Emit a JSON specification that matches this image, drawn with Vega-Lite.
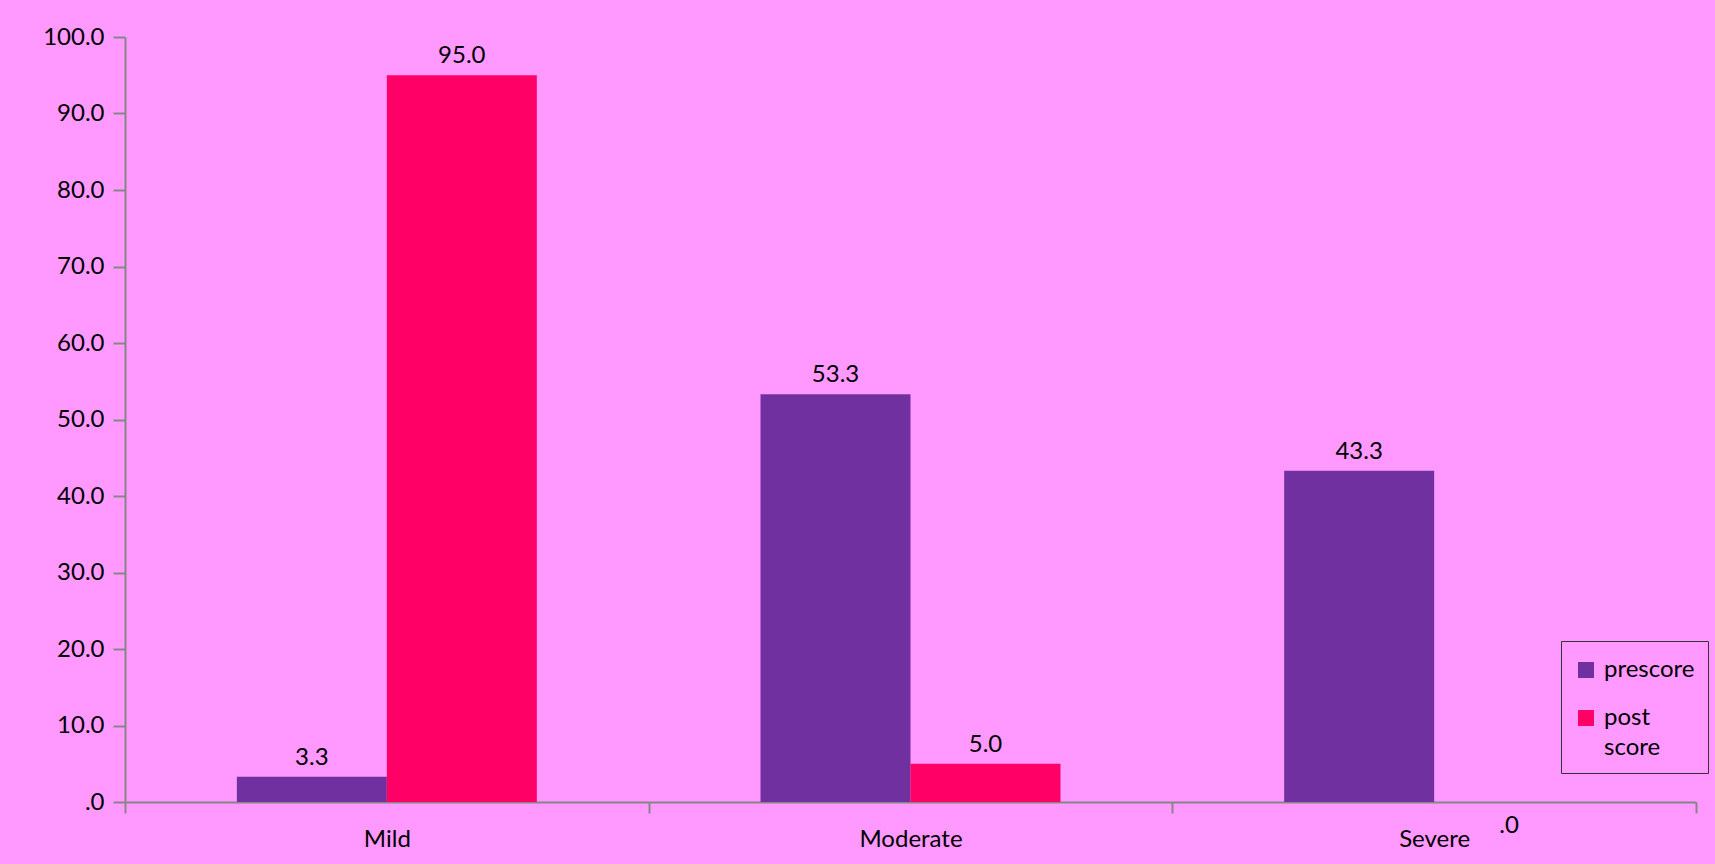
{
  "$schema": "https://vega.github.io/schema/vega-lite/v6.json",
  "width": 1571,
  "height": 765,
  "autosize": {"type": "none"},
  "padding": {"left": 125, "top": 37, "right": 19, "bottom": 62},
  "background": "#FF99FF",
  "config": {
    "view": {"stroke": null},
    "font": "Lato",
    "axis": {
      "domainColor": "#868686",
      "domainWidth": 2,
      "tickColor": "#868686",
      "tickWidth": 2,
      "labelColor": "#000000",
      "labelFontSize": 24,
      "labelFont": "Lato",
      "grid": false,
      "title": null
    }
  },
  "data": {
    "values": [
      {"severity": "Mild", "group": "prescore", "pct": 3.3},
      {"severity": "Mild", "group": "post score", "pct": 95.0},
      {"severity": "Moderate", "group": "prescore", "pct": 53.3},
      {"severity": "Moderate", "group": "post score", "pct": 5.0},
      {"severity": "Severe", "group": "prescore", "pct": 43.3},
      {"severity": "Severe", "group": "post score", "pct": 0.0}
    ]
  },
  "transform": [
    {"calculate": "datum.pct === 0 ? '.0' : format(datum.pct, '.1f')", "as": "label"}
  ],
  "encoding": {
    "x": {
      "field": "severity",
      "type": "nominal",
      "sort": ["Mild", "Moderate", "Severe"],
      "scale": {"paddingInner": 0, "paddingOuter": 0},
      "axis": {
        "labelAngle": 0,
        "tickBand": "extent",
        "tickSize": 11,
        "labelPadding": 14
      }
    },
    "xOffset": {
      "field": "group",
      "type": "nominal",
      "sort": ["prescore", "post score"],
      "scale": {"paddingInner": 0, "paddingOuter": 0.7457}
    },
    "y": {
      "field": "pct",
      "type": "quantitative",
      "scale": {"domain": [0, 100], "nice": false},
      "axis": {
        "values": [0, 10, 20, 30, 40, 50, 60, 70, 80, 90, 100],
        "labelExpr": "datum.value === 0 ? '.0' : format(datum.value, '.1f')",
        "tickSize": 12,
        "labelPadding": 9
      }
    }
  },
  "layer": [
    {
      "mark": {"type": "bar"},
      "encoding": {
        "color": {
          "field": "group",
          "type": "nominal",
          "sort": ["prescore", "post score"],
          "scale": {"domain": ["prescore", "post score"], "range": ["#7030A0", "#FF0066"]},
          "legend": {
            "title": " ",
            "titleFontSize": 2,
            "titlePadding": 2,
            "orient": "none",
            "legendX": 1436,
            "legendY": 604,
            "symbolType": "square",
            "symbolSize": 256,
            "symbolStrokeWidth": 0,
            "labelFontSize": 24,
            "labelFont": "Lato",
            "labelColor": "#000000",
            "labelOffset": 6,
            "labelBaseline": "alphabetic",
            "labelExpr": "datum.label === 'post score' ? ['post', 'score'] : datum.label",
            "fillColor": "#FF99FF",
            "strokeColor": "#333333",
            "padding": 13,
            "rowPadding": 24,
            "encode": {
              "labels": {"update": {"dy": {"value": 7}, "lineHeight": {"value": 30}}}
            }
          }
        }
      }
    },
    {
      "transform": [{"filter": "datum.pct > 0"}],
      "mark": {"type": "text", "baseline": "alphabetic", "dy": -12, "fontSize": 24, "font": "Lato", "color": "#000000"},
      "encoding": {"text": {"field": "label"}}
    },
    {
      "transform": [{"filter": "datum.pct === 0"}],
      "mark": {"type": "text", "baseline": "alphabetic", "dy": 31, "fontSize": 24, "font": "Lato", "color": "#000000"},
      "encoding": {"text": {"field": "label"}}
    }
  ]
}
